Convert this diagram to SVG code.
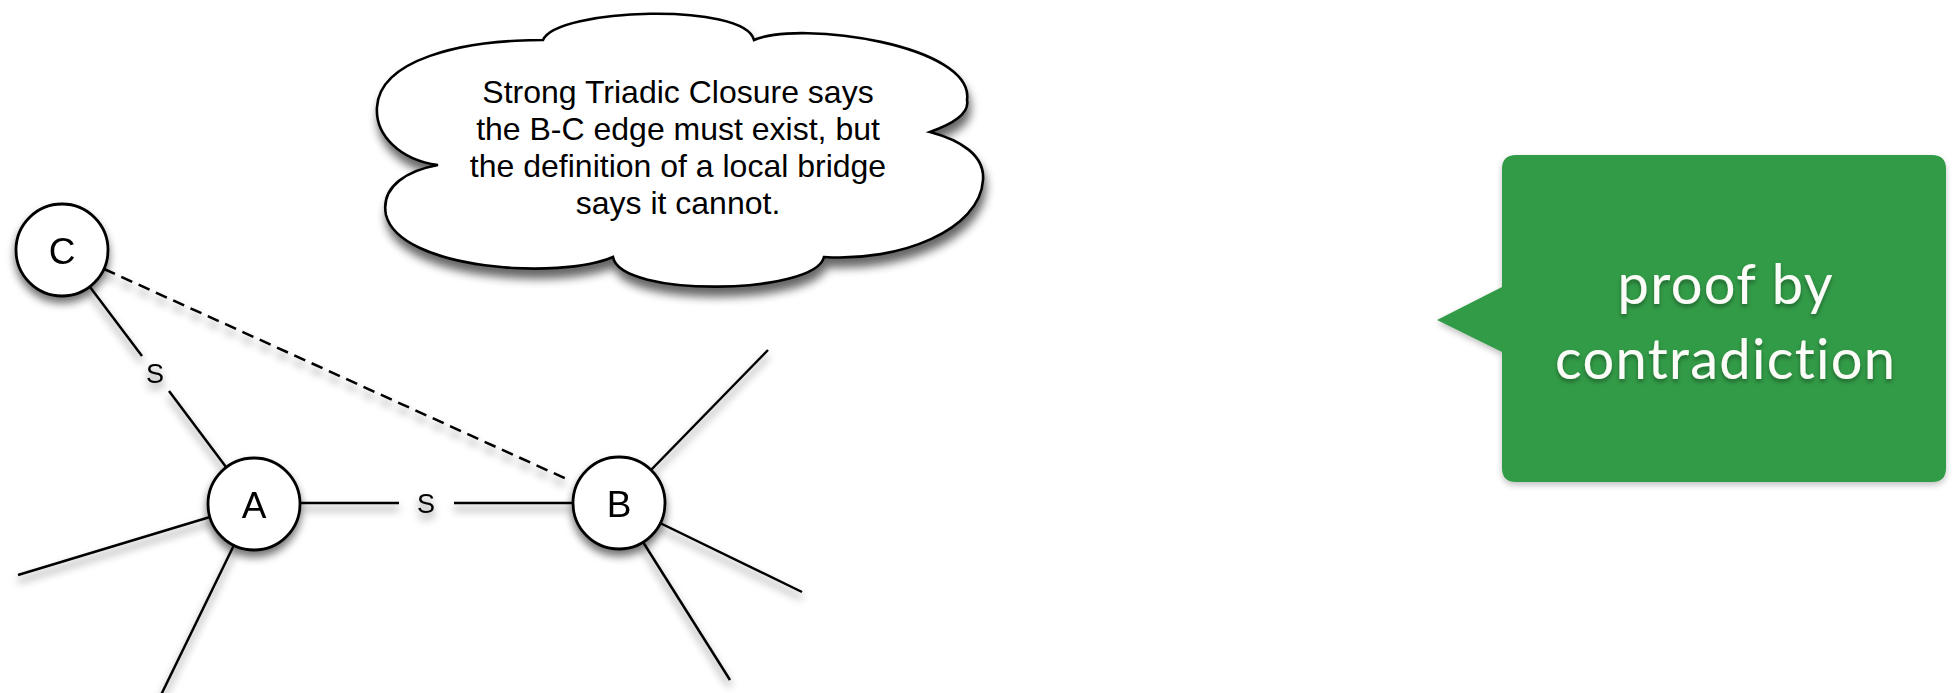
<svg xmlns="http://www.w3.org/2000/svg" width="1954" height="693" viewBox="0 0 1954 693">
<defs>
<filter id="sh" x="-30%" y="-30%" width="160%" height="170%">
<feGaussianBlur in="SourceAlpha" stdDeviation="4"/>
<feOffset dx="0" dy="6" result="b"/>
<feComponentTransfer><feFuncA type="linear" slope="0.55"/></feComponentTransfer>
<feMerge><feMergeNode/><feMergeNode in="SourceGraphic"/></feMerge>
</filter>
<filter id="sh2" x="-20%" y="-20%" width="140%" height="150%">
<feGaussianBlur in="SourceAlpha" stdDeviation="5"/>
<feOffset dx="2" dy="9" result="b"/>
<feComponentTransfer><feFuncA type="linear" slope="0.6"/></feComponentTransfer>
<feMerge><feMergeNode/><feMergeNode in="SourceGraphic"/></feMerge>
</filter>
<filter id="tsh" x="-10%" y="-20%" width="120%" height="150%">
<feGaussianBlur in="SourceAlpha" stdDeviation="2"/>
<feOffset dx="0" dy="3" result="b"/>
<feComponentTransfer><feFuncA type="linear" slope="0.35"/></feComponentTransfer>
<feMerge><feMergeNode/><feMergeNode in="SourceGraphic"/></feMerge>
</filter>
<filter id="bsh" x="-10%" y="-10%" width="120%" height="125%">
<feGaussianBlur in="SourceAlpha" stdDeviation="3"/>
<feOffset dx="0" dy="3" result="b"/>
<feComponentTransfer><feFuncA type="linear" slope="0.25"/></feComponentTransfer>
<feMerge><feMergeNode/><feMergeNode in="SourceGraphic"/></feMerge>
</filter>
</defs>
<style>
.edge{stroke:#000;stroke-width:2.5;fill:none;stroke-linecap:butt}
.dash{stroke-dasharray:12 7}
.node{fill:#fff;stroke:#000;stroke-width:2.8}
.nl{font-family:"Liberation Sans",Arial,sans-serif;font-size:37px;text-anchor:middle;fill:#000}
.el{font-family:"Liberation Sans",Arial,sans-serif;font-size:27px;text-anchor:middle;fill:#000}
.ct{font-family:"Liberation Sans",Arial,sans-serif;font-size:32px;text-anchor:middle;fill:#000}
.gt{font-family:Lato,"Open Sans",sans-serif;font-size:56px;text-anchor:middle;fill:#fbfbf7;font-variant-ligatures:none;font-feature-settings:"liga" 0}
</style>
<rect width="1954" height="693" fill="#fff"/>

<g id="connectors" filter="url(#sh)">
<line class="edge" x1="89.8" y1="286.7" x2="142" y2="356"/>
<line class="edge" x1="169" y1="391" x2="226" y2="467"/>
<line class="edge dash" x1="104" y1="269" x2="571" y2="481"/>
<line class="edge" x1="300" y1="503" x2="399" y2="503"/>
<line class="edge" x1="454" y1="503" x2="573" y2="503"/>
<line class="edge" x1="210" y1="517" x2="18" y2="575"/>
<line class="edge" x1="234" y1="545" x2="160" y2="697"/>
<line class="edge" x1="651" y1="470" x2="768" y2="350"/>
<line class="edge" x1="660" y1="523" x2="802" y2="592"/>
<line class="edge" x1="643" y1="542" x2="730" y2="680"/>
<text class="el" x="155" y="383">S</text>
<text class="el" x="426" y="513">S</text>
</g>

<g id="node-C" filter="url(#sh)">
<circle class="node" cx="62" cy="250" r="46"/>
<text class="nl" x="62" y="263.5">C</text>
</g>
<g id="node-A" filter="url(#sh)">
<circle class="node" cx="254" cy="504" r="46"/>
<text class="nl" x="254" y="517.5">A</text>
</g>
<g id="node-B" filter="url(#sh)">
<circle class="node" cx="619" cy="503" r="46"/>
<text class="nl" x="619" y="516.5">B</text>
</g>

<g id="cloud">
<path filter="url(#sh2)" fill="#fff" stroke="#000" stroke-width="2.6" stroke-linejoin="miter" d="M 543 40 C 556 8, 745 2, 754 40 C 800 20, 975 45, 967 100 C 970 115, 950 125, 930 132 C 960 140, 985 155, 983 180 C 980 230, 900 262, 824 257 C 815 295, 620 298, 613 257 C 560 280, 400 270, 386 215 C 380 185, 410 170, 438 165 C 400 160, 375 135, 377 107 C 380 60, 460 40, 543 40 Z"/>
<text class="ct" x="678" y="103">Strong Triadic Closure says</text>
<text class="ct" x="678" y="140">the B-C edge must exist, but</text>
<text class="ct" x="678" y="177">the definition of a local bridge</text>
<text class="ct" x="678" y="214">says it cannot.</text>
</g>

<g id="callout">
<path filter="url(#bsh)" fill="#329b46" d="M 1516 155 H 1932 Q 1946 155 1946 169 V 468 Q 1946 482 1932 482 H 1516 Q 1502 482 1502 468 V 352 L 1437 320 L 1502 287 V 169 Q 1502 155 1516 155 Z"/>
<g filter="url(#tsh)">
<text class="gt" x="1725" y="304" textLength="215">proof by</text>
<text class="gt" x="1725" y="379" textLength="340">contradiction</text>
</g>
</g>
</svg>
